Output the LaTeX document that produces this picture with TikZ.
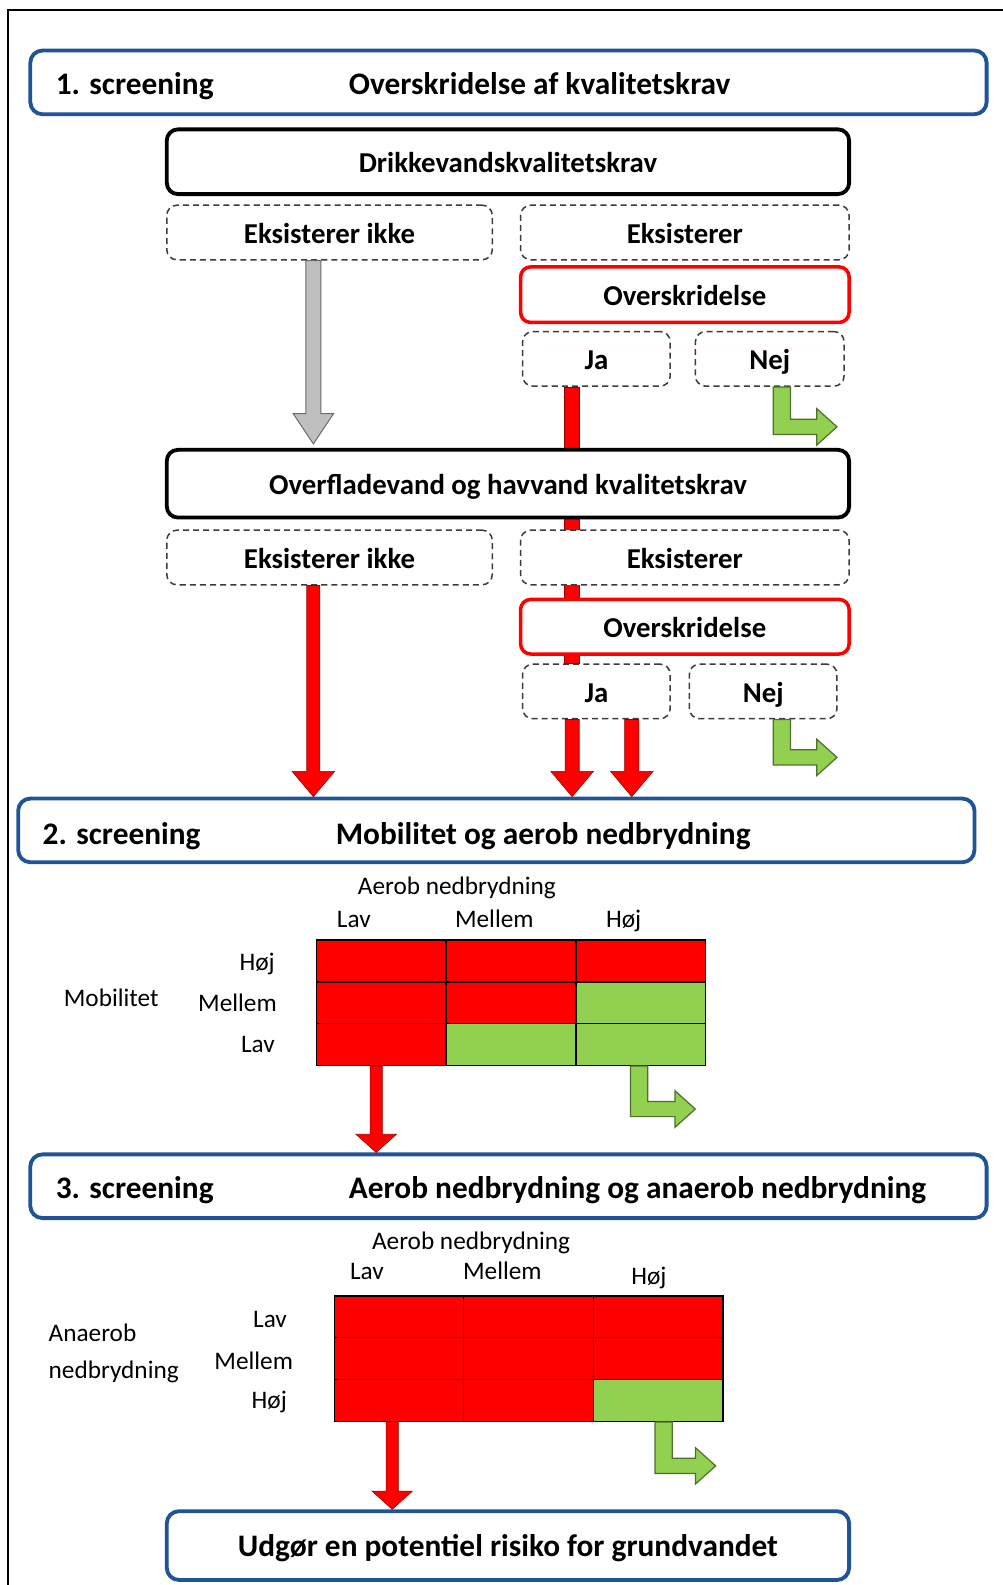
\documentclass[tikz,border=0pt]{standalone}
\usepackage{fontspec}
\setmainfont{Carlito}
\usetikzlibrary{calc}
\definecolor{bluebox}{RGB}{32,84,150}
\definecolor{redc}{RGB}{255,0,0}
\definecolor{redline}{RGB}{150,0,0}
\definecolor{greenc}{RGB}{146,208,80}
\definecolor{greenline}{RGB}{80,110,50}
\definecolor{grayc}{RGB}{191,191,191}
\definecolor{grayline}{RGB}{105,105,105}
\definecolor{dashc}{RGB}{60,60,60}
\pgfdeclarelayer{bg}
\pgfsetlayers{bg,main}

% vertical block arrow: style, start, tip, half shaft, half head, head length
\newcommand{\varrow}[6]{%
 \filldraw[#1] ($(#2)+(-#4,0)$) -- ($(#3)+(-#4,-#6)$) -- ($(#3)+(-#5,-#6)$) -- (#3)
   -- ($(#3)+(#5,-#6)$) -- ($(#3)+(#4,-#6)$) -- ($(#2)+(#4,0)$) -- cycle;}
% bent green arrow: start (top-left of shaft), drop, total length
\newcommand{\barrow}[3]{%
 \filldraw[garrow] (#1) -- ++(0,{#2+15}) -- ++({#3-20},0) -- ++(0,10.5) -- ++(20,-18)
   -- ++(-20,-18) -- ++(0,10.5) -- ++({37-#3},0) -- ++(0,{-#2}) -- cycle;}

\begin{document}
\begin{tikzpicture}[x=1pt,y=-1pt,
  titlebox/.style={draw=bluebox,line width=3.8,rounded corners=12,fill=white,minimum width=946,minimum height=63,inner sep=0},
  blackbox/.style={draw=black,line width=3.8,rounded corners=11,fill=white,minimum width=675,inner sep=0,
     font=\fontsize{28.5}{34}\selectfont\bfseries,text height=21pt,text depth=0pt},
  dashbox/.style={draw=dashc,dashed,dash pattern=on 6 off 4,line width=1.5,rounded corners=10,fill=white,inner sep=0,
     minimum height=54,font=\fontsize{28.5}{34}\selectfont\bfseries,text height=22pt,text depth=0pt},
  redbox/.style={draw=redc,line width=3.5,rounded corners=10,fill=white,inner sep=0,minimum width=325,minimum height=55,
     font=\fontsize{28.5}{34}\selectfont\bfseries,text height=22pt,text depth=0pt},
  ttl/.style={anchor=base west,inner sep=0,font=\fontsize{31}{37}\selectfont\bfseries},
  lbl/.style={anchor=base,inner sep=0,font=\fontsize{25}{30}\selectfont},
  cell/.style={draw=black,line width=1.3,minimum width=128.33,minimum height=41.33,inner sep=0},
  rarrow/.style={fill=redc,draw=redline,line width=0.6},
  garrowv/.style={fill=grayc,draw=grayline,line width=1},
  garrow/.style={fill=greenc,draw=greenline,line width=1.2,line join=miter}]
\useasboundingbox (0,0) rectangle (992,1568);
\begin{pgfonlayer}{bg}
\fill[white] (0,0) rectangle (992,1568);
\end{pgfonlayer}
\draw[line width=2] (8,1600) -- (8,10) -- (1010,10);

% ---- screening 1
\node[titlebox] (s1) at (503,81.5) {};
\node[ttl] (s1a) at (55,93) {1. screening};
\node[ttl] (s1b) at (345,93) {Overskridelse af kvalitetskrav};

\node[blackbox,minimum height=64] (drik) at (502.5,160) {Drikkevandskvalitetskrav};
\node[dashbox,minimum width=322] (eik1) at (326,230) {Eksisterer ikke};
\node[dashbox,minimum width=325] (ek1) at (677.5,230) {Eksisterer};
\node[redbox] (ov1) at (677.5,291.5) {Overskridelse};
\node[dashbox,minimum width=146] (ja1) at (590,355) {Ja};
\node[dashbox,minimum width=147] (nej1) at (761.5,355) {Nej};

\node[blackbox,minimum height=67] (overf) at (502.5,478.5) {Overfladevand og havvand kvalitetskrav};
\node[dashbox,minimum width=322] (eik2) at (326,551.5) {Eksisterer ikke};
\node[dashbox,minimum width=325] (ek2) at (677.5,551.5) {Eksisterer};
\node[redbox,minimum height=54] (ov2) at (677.5,620) {Overskridelse};
\node[dashbox,minimum width=146] (ja2) at (590,684) {Ja};
\node[dashbox,minimum width=146] (nej2) at (755,684) {Nej};

% red bar behind boxes
\coordinate (rb1) at ($(ja1.south)+(-24.5,0)$);
\coordinate (rb2) at (rb1 |- ja2.north);
\begin{pgfonlayer}{bg}
\filldraw[rarrow] ($(rb1)+(-7.5,0)$) rectangle ($(rb2)+(7.5,0)$);
\end{pgfonlayer}

% gray arrow
\coordinate (ga1) at ($(eik1.south)+(-16,0)$);
\coordinate (ga2) at ($(ga1 |- overf.north)+(0,-4)$);
\varrow{garrowv}{ga1}{ga2}{7.5}{20}{30}

% green arrows level 1/2
\coordinate (gn1) at ($(nej1.south)+(3.5,0)$);
\barrow{gn1}{32}{63}
\coordinate (gn2) at ($(nej2.south)+(10,0)$);
\barrow{gn2}{30}{63}

% ---- screening 2
\node[titlebox] (s2) at (491,821.5) {};
\node[ttl] (s2a) at (42,835) {2. screening};
\node[ttl] (s2b) at (332,835) {Mobilitet og aerob nedbrydning};

% red arrows into screening 2
\coordinate (ra1) at ($(eik2.south)+(-16,0)$);
\coordinate (ra1t) at (ra1 |- s2.north);
\varrow{rarrow}{ra1}{ra1t}{6.5}{21}{25}
\coordinate (ra2) at ($(ja2.south)+(-24,0)$);
\coordinate (ra2t) at (ra2 |- s2.north);
\varrow{rarrow}{ra2}{ra2t}{7}{21}{25}
\coordinate (ra3) at ($(ja2.south)+(35,0)$);
\coordinate (ra3t) at (ra3 |- s2.north);
\varrow{rarrow}{ra3}{ra3t}{7}{21}{25}

% table 1
\foreach \c [count=\k from 0] in {redc,redc,redc,redc,redc,greenc,redc,greenc,greenc}{
  \pgfmathtruncatemacro\ii{floor(\k/3)}
  \pgfmathtruncatemacro\jj{\k-3*\ii}
  \node[cell,fill=\c] (ta-\ii-\jj) at ({313+64.17+128.33*\jj},{930+20.67+41.33*\ii}) {};
}
\node[lbl] (ta-h) at (452,885) {Aerob nedbrydning};
\node[lbl] (ta-c0) at (350,918) {Lav};
\node[lbl] (ta-c1) at (489,918) {Mellem};
\node[lbl] (ta-c2) at (617,918) {Høj};
\node[lbl,anchor=base east] (ta-r0) at (272,960) {Høj};
\node[lbl,anchor=base east] (ta-r1) at (274,1001) {Mellem};
\node[lbl,anchor=base east] (ta-r2) at (272,1041) {Lav};
\node[lbl,anchor=base west] (ta-m) at (63,996) {Mobilitet};

\coordinate (rt1) at ($(ta-2-0.south)+(-5,0)$);
\node[titlebox] (s3) at (503,1173.5) {};
\coordinate (rt1t) at (rt1 |- s3.north);
\varrow{rarrow}{rt1}{rt1t}{6}{20}{18}
\coordinate (gt1) at ($(ta-2-2.south)+(-10,0)$);
\barrow{gt1}{35}{64}

% ---- screening 3
\node[ttl] (s3a) at (55,1186) {3. screening};
\node[ttl] (s3b) at (345,1186) {Aerob nedbrydning og anaerob nedbrydning};

% table 2
\foreach \c [count=\k from 0] in {redc,redc,redc,redc,redc,redc,redc,redc,greenc}{
  \pgfmathtruncatemacro\ii{floor(\k/3)}
  \pgfmathtruncatemacro\jj{\k-3*\ii}
  \node[cell,fill=\c] (tb-\ii-\jj) at ({331+64+128*\jj},{1282+20.67+41.33*\ii}) {};
}
\node[lbl] (tb-h) at (466,1236) {Aerob nedbrydning};
\node[lbl] (tb-c0) at (363,1266) {Lav};
\node[lbl] (tb-c1) at (497,1266) {Mellem};
\node[lbl] (tb-c2) at (642,1271) {Høj};
\node[lbl,anchor=base east] (tb-r0) at (284,1313) {Lav};
\node[lbl,anchor=base east] (tb-r1) at (290,1355) {Mellem};
\node[lbl,anchor=base east] (tb-r2) at (284,1393) {Høj};
\node[lbl,anchor=base west] (tb-m1) at (48,1327) {Anaerob};
\node[lbl,anchor=base west] (tb-m2) at (48,1364) {nedbrydning};

\node[titlebox,draw=bluebox,minimum width=675,minimum height=68] (fin) at (502.5,1529) {};
\node[anchor=base,inner sep=0,font=\fontsize{31}{37}\selectfont\bfseries] (fint) at (502.5,1540) {Udgør en potentiel risiko for grundvandet};

\coordinate (rt2) at ($(tb-2-0.south)+(-7,0)$);
\coordinate (rt2t) at (rt2 |- fin.north);
\varrow{rarrow}{rt2}{rt2t}{6}{20}{18}
\coordinate (gt2) at ($(tb-2-2.south)+(-3,0)$);
\barrow{gt2}{36}{60}
\end{tikzpicture}
\end{document}
